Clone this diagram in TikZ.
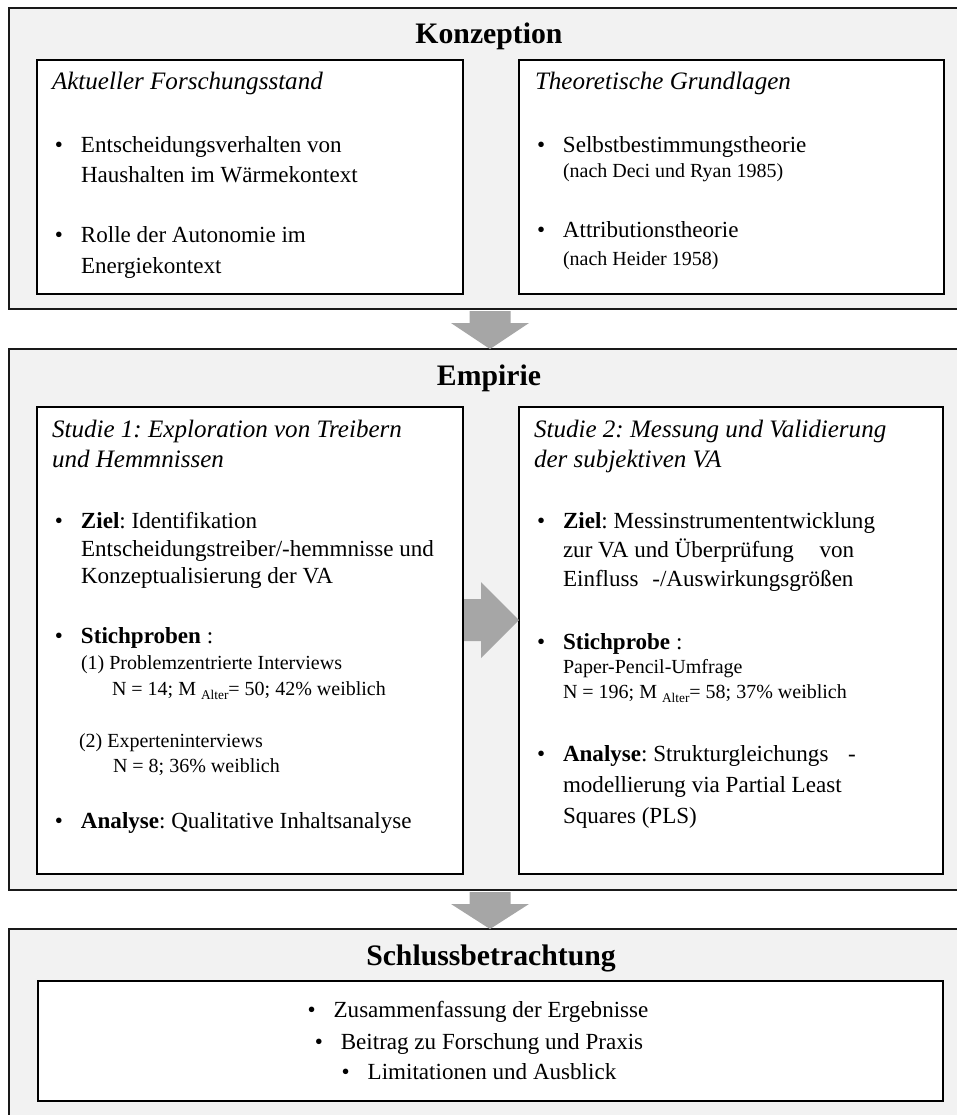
\documentclass[tikz,border=0pt]{standalone}
\usepackage{fontspec}
\setmainfont{Liberation Serif}
\usetikzlibrary{calc,fit}
\newlength\px
\setlength\px{0.75pt}
\definecolor{outerfill}{HTML}{F2F2F2}
\definecolor{arrgrey}{HTML}{A6A6A6}
\newcommand\TitleF{\fontsize{22.3pt}{26pt}\selectfont\bfseries}
\newcommand\HeadF{\fontsize{18.8pt}{22pt}\selectfont\itshape}
\newcommand\BodyF{\fontsize{17.3pt}{21pt}\selectfont}
\newcommand\SmallF{\fontsize{15pt}{18pt}\selectfont}
\newcommand\SubT[1]{\raisebox{-0.2em}{\fontsize{10pt}{12pt}\selectfont #1}}
\newcommand\BulT{\makebox[26\px][l]{•}}
\frenchspacing
\begin{document}
\frenchspacing
\begin{tikzpicture}[x=0.75pt,y=-0.75pt,
  outerbox/.style={draw=black!90, line width=1.2pt, fill=outerfill, inner sep=0pt, outer sep=0pt},
  innerbox/.style={draw=black, line width=1.3pt, fill=white, inner sep=0pt, outer sep=0pt},
  arr/.style={fill=arrgrey},
  lbl/.style={anchor=base west, inner sep=0pt, outer sep=0pt, font=\BodyF},
  sml/.style={anchor=base west, inner sep=0pt, outer sep=0pt, font=\SmallF},
  hdr/.style={anchor=base west, inner sep=0pt, outer sep=0pt, font=\HeadF},
  ttl/.style={anchor=base, inner sep=0pt, outer sep=0pt, font=\TitleF},
  ctr/.style={anchor=base, inner sep=0pt, outer sep=0pt, font=\BodyF}]
\useasboundingbox (0,0) rectangle (957,1115);
\clip (0,0) rectangle (957,1115);

% outer boxes
\node[outerbox, fit={(9,8) (971,309)}] (konz) {};
\node[outerbox, fit={(9,349) (971,890)}] (emp) {};
\node[outerbox, fit={(9,929) (971,1130)}] (schl) {};

% down arrows
\fill[arr] ($(konz.south)+(-20.5,2)$) -- ($(konz.south)+(20.5,2)$) -- ($(konz.south)+(20.5,14)$)
  -- ($(konz.south)+(39,14)$) -- (emp.north) -- ($(konz.south)+(-39,14)$)
  -- ($(konz.south)+(-20.5,14)$) -- cycle;
\fill[arr] ($(emp.south)+(-20.5,2)$) -- ($(emp.south)+(20.5,2)$) -- ($(emp.south)+(20.5,14)$)
  -- ($(emp.south)+(39,14)$) -- (schl.north) -- ($(emp.south)+(-39,14)$)
  -- ($(emp.south)+(-20.5,14)$) -- cycle;

% inner boxes
\node[innerbox, fit={(37,60) (463,294)}] (k1) {};
\node[innerbox, fit={(519,60) (944,294)}] (k2) {};
\node[innerbox, fit={(37,407) (463,874)}] (e1) {};
\node[innerbox, fit={(519,407) (943,874)}] (e2) {};
\node[innerbox, fit={(38,981) (943,1101)}] (s1) {};

% right arrow
\coordinate (ra) at ($(e1.east)+(0,-20.5)$);
\fill[arr] ($(ra)+(0,-21)$) -- ($(ra)+(18,-21)$) -- ($(ra)+(18,-38)$) -- (ra -| e2.west)
  -- ($(ra)+(18,38)$) -- ($(ra)+(18,21)$) -- ($(ra)+(0,21)$) -- cycle;
\draw[draw=black, line width=1.3pt] (e1.north east) -- (e1.south east);

% Konzeption
\node[ttl] (tK) at (489,43) {Konzeption};
\node[hdr] (h1) at (52,89) {Aktueller Forschungsstand};
\node[lbl] (a1) at (55,152) {\BulT Entscheidungsverhalten von};
\node[lbl] (a2) at (81,182) {Haushalten im Wärmekontext};
\node[lbl] (a3) at (55,242) {\BulT Rolle der Autonomie im};
\node[lbl] (a4) at (81,273) {Energiekontext};

\node[hdr] (h2) at (535,89) {Theoretische Grundlagen};
\node[lbl] (b1) at (537,152) {\BulT Selbstbestimmungstheorie};
\node[sml] (b2) at (563,177) {(nach Deci und Ryan 1985)};
\node[lbl] (b3) at (537,237) {\BulT Attributionstheorie};
\node[sml] (b4) at (563,265) {(nach Heider 1958)};

% Empirie
\node[ttl] (tE) at (489,385) {Empirie};
\node[hdr] (h3) at (52,437) {Studie 1: Exploration von Treibern};
\node[hdr] (h3b) at (52,467) {und Hemmnissen};
\node[lbl] (c1) at (55,528) {\BulT\textbf{Ziel}: Identifikation};
\node[lbl] (c2) at (81,556) {Entscheidungstreiber/-hemmnisse und};
\node[lbl] (c3) at (81,583) {Konzeptualisierung der VA};
\node[lbl] (c4) at (55,643) {\BulT\textbf{Stichproben} :};
\node[sml] (c5) at (81,669) {(1) Problemzentrierte Interviews};
\node[sml] (c6) at (112,695) {N = 14; M \SubT{Alter}= 50; 42\% weiblich};
\node[sml] (c7) at (79,747) {(2) Experteninterviews};
\node[sml] (c8) at (113,772) {N = 8; 36\% weiblich};
\node[lbl] (c9) at (55,828) {\BulT\textbf{Analyse}: Qualitative Inhaltsanalyse};

\node[hdr] (h4) at (534,437) {Studie 2: Messung und Validierung};
\node[hdr] (h4b) at (534,467) {der subjektiven VA};
\node[lbl] (d1) at (537,528) {\BulT\textbf{Ziel}: Messinstrumententwicklung};
\node[lbl] (d2) at (563,557) {zur VA und Überprüfung\hspace{20\px} von};
\node[lbl] (d3) at (563,586) {Einfluss\hspace{8\px} -/Auswirkungsgrößen};
\node[lbl] (d4) at (537,649) {\BulT\textbf{Stichprobe} :};
\node[sml] (d5) at (563,673) {Paper-Pencil-Umfrage};
\node[sml] (d6) at (563,698) {N = 196; M \SubT{Alter}= 58; 37\% weiblich};
\node[lbl] (d7) at (537,761) {\BulT\textbf{Analyse}: Strukturgleichungs\hspace{14\px} -};
\node[lbl] (d8) at (563,792) {modellierung via Partial Least};
\node[lbl] (d9) at (563,823) {Squares (PLS)};

% Schlussbetrachtung
\node[ttl] (tS) at (491,965) {Schlussbetrachtung};
\node[ctr] (s1t) at (478,1017) {\BulT Zusammenfassung der Ergebnisse};
\node[ctr] (s2t) at (479,1049) {\BulT Beitrag zu Forschung und Praxis};
\node[ctr] (s3t) at (479,1079) {\BulT Limitationen und Ausblick};
\end{tikzpicture}
\end{document}
